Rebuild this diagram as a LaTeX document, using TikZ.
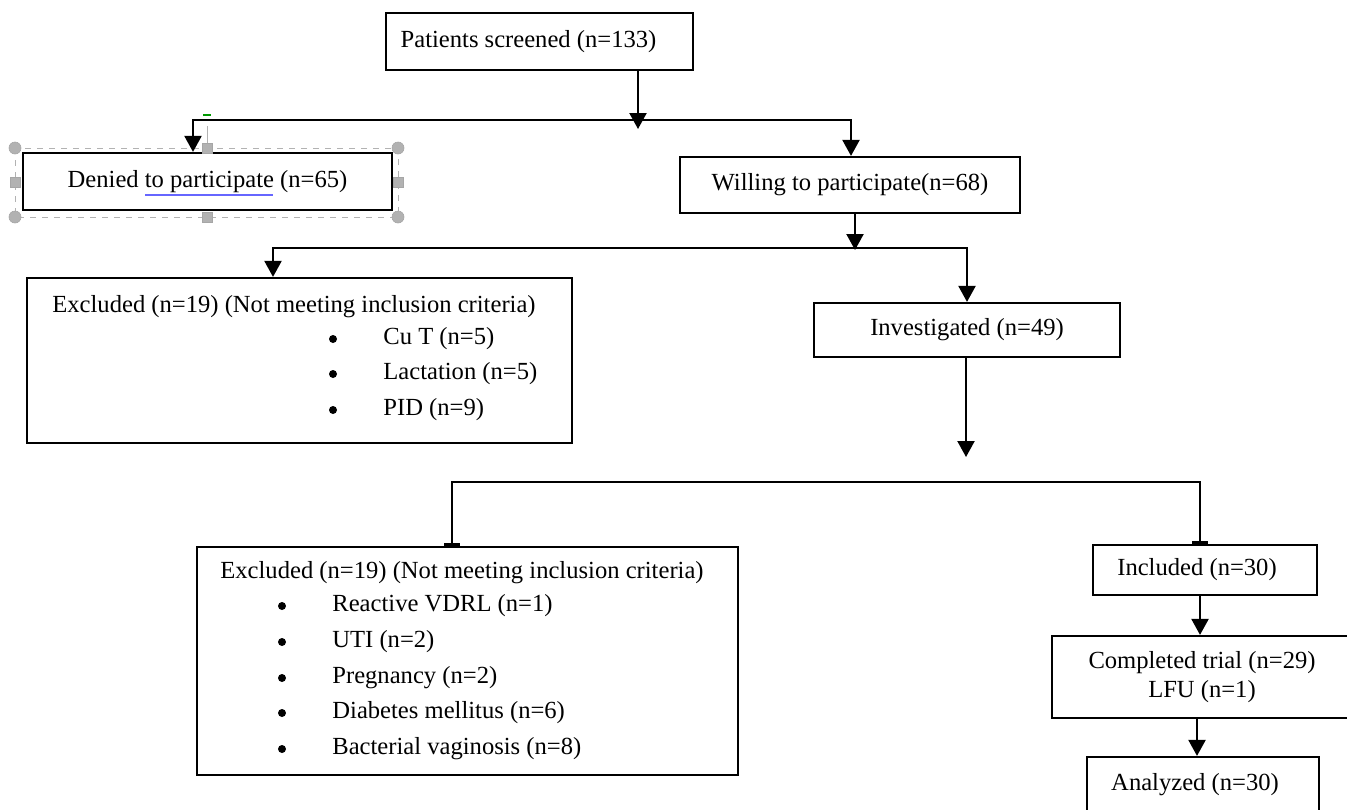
\documentclass[tikz,border=0pt]{standalone}
\usepackage{fontspec}
\setmainfont{Liberation Serif}
\usetikzlibrary{arrows.meta}

\tikzset{
  box/.style={draw, line width=1.1pt, rectangle, inner sep=0pt,
    font=\fontsize{12.3}{14.5}\selectfont},
  txt/.style={inner sep=0pt, font=\fontsize{12.3}{14.5}\selectfont},
  dot/.style={circle, fill, inner sep=0pt, minimum size=4pt},
  arr/.style={line width=1.1pt, -{Triangle[length=8pt,width=8.5pt]}},
  arrtwo/.style={line width=1.1pt, {Triangle[length=8pt,width=8.5pt]}-{Triangle[length=8pt,width=8.5pt]}},
  bartwo/.style={line width=1.1pt, {Rectangle[length=1.5pt,width=8pt]}-{Rectangle[length=1.5pt,width=8pt]}},
  handle/.style={draw=gray!70, fill=gray!60, line width=0.3pt}
}

\begin{document}
\begin{tikzpicture}[x=0.5pt, y=-0.5pt]
    \useasboundingbox (0,0) rectangle (1347,809);

    % kopje
    \node[box, minimum width=153.5pt, minimum height=28.5pt] (screened) at (539.5,41.5) {Patients screened (n=133)\kern11pt};

    % eerste splitsing
    \node[box, minimum width=184.5pt, minimum height=28.5pt] (denied) at (207.5,181.5) {Denied to participate (n=65)};
    \node[box, minimum width=170pt, minimum height=28pt] (willing) at (850,185) {Willing to participate(n=68)};

    % selectie van het tekstvak
    \draw[gray!60, dashed, line width=0.4pt] (15,148) rectangle (398,217);
    \draw[gray!60, line width=0.4pt] (207,148) -- (207,126);
    \draw[green!60!black, line width=0.8pt] (203,115) -- (211,115);
    \foreach \p in {(15,148),(398,148),(15,217),(398,217)}
    \fill[handle] \p circle (6);
    \foreach \p in {(207,148),(15,182),(398,182),(207,217)}
    \filldraw[handle] \p ++(-5,-5) rectangle ++(10,10);
    \draw[blue!60, line width=0.6pt] (145,195) -- (273,195);

    \coordinate (sj) at (638,129);
    \draw[arr] (screened.south -| sj) -- (sj);
    \coordinate (s1l) at (193,120);
    \coordinate (s1r) at (851,120);
    \draw[arrtwo] (s1l |- denied.north) -- (s1l) -- (s1r) -- (s1r |- willing.north);

    % tweede splitsing
    \node[box, minimum width=272.5pt, minimum height=82.5pt] (excla) at (299.5,360.5) {};
    \node[txt, anchor=west] (exclahead) at (52,307) {Excluded (n=19) (Not meeting inclusion criteria)};
    \foreach \y/\t in {339/Cu T (n=5), 374/Lactation (n=5), 410/PID (n=9)} {
      \node[dot] (bulleta\y) at (333,\y) {};
      \node[txt, anchor=west] (itema\y) at (383,\y) {\t};
    }
    \node[box, minimum width=153pt, minimum height=27pt] (invest) at (967,330) {Investigated (n=49)};

    \coordinate (wj) at (855,250);
    \draw[arr] (willing.south -| wj) -- (wj);
    \coordinate (s2l) at (273,248);
    \coordinate (s2r) at (967,248);
    \draw[arrtwo] (s2l |- excla.north) -- (s2l) -- (s2r) -- (s2r |- invest.north);

    \coordinate (ij) at (966,457);
    \draw[arr] (invest.south -| ij) -- (ij);

    % derde splitsing
    \node[box, minimum width=270.5pt, minimum height=114pt] (exclb) at (467.5,661) {};
    \node[txt, anchor=west] (exclbhead) at (220,573) {Excluded (n=19) (Not meeting inclusion criteria)};
    \foreach \y/\t in {606/Reactive VDRL (n=1), 642/UTI (n=2), 678/Pregnancy (n=2), 713/Diabetes mellitus (n=6), 749/Bacterial vaginosis (n=8)} {
      \node[dot] (bulletb\y) at (282,\y) {};
      \node[txt, anchor=west] (itemb\y) at (332,\y) {\t};
    }
    \node[box, minimum width=112pt, minimum height=25pt] (included) at (1205,570) {Included (n=30)\kern8pt};
    \coordinate (s3l) at (452,482);
    \coordinate (s3r) at (1200,482);
    \draw[bartwo] (s3l |- exclb.north) -- (s3l) -- (s3r) -- (s3r |- included.north);

    % einde
    \node[box, minimum width=150pt, minimum height=41pt, align=center] (completed) at (1202,677) {Completed trial (n=29)\\LFU (n=1)};
    \node[box, minimum width=116pt, minimum height=28pt] (analyzed) at (1203,785) {Analyzed (n=30)\kern8pt};
    \draw[arr] (included.south -| s3r) -- (completed.north -| s3r);
    \coordinate (cj) at (1197,765);
    \draw[arr] (completed.south -| cj) -- (analyzed.north -| cj);
  \end{tikzpicture}
\end{document}
